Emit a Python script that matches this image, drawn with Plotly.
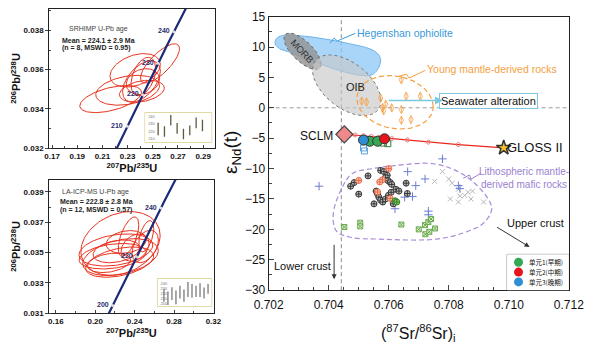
import numpy as np
import plotly.graph_objects as go

FONT = "Liberation Sans, Arial, sans-serif"
CJK = "Noto Sans CJK SC, Noto Sans, sans-serif"

# ---------------- concordia (decay constants) ----------------
LAMBDA_238 = 1.55125e-10
LAMBDA_235 = 9.8485e-10
concordia_ages = np.linspace(150, 300, 301)          # Ma
shrimp_age_marks = [210, 220, 230, 240]
laicp_age_marks = [200, 220, 240]

# ---------------- SHRIMP ellipses (top-left) ----------------
shrimp_x = [0.2165, 0.2300, 0.2557, 0.2360, 0.2410, 0.2425, 0.2413, 0.2421]
shrimp_y = [0.03450, 0.03495, 0.03632, 0.03597, 0.03540, 0.03565, 0.03490, 0.03539]
shrimp_sx = [0.0245, 0.0253, 0.0155, 0.0200, 0.0150, 0.0098, 0.0178, 0.0132]
shrimp_sy = [0.00069, 0.00076, 0.00100, 0.00085, 0.00105, 0.00098, 0.00056, 0.00066]
shrimp_rho = [0.5, 0.3, 0.75, 0.35, 0.5, 0.4, 0.3, 0.2]

# ---------------- LA-ICP-MS ellipses (bottom-left) ----------------
laicp_x = [0.2257, 0.2210, 0.2257, 0.2177, 0.2248, 0.2215, 0.2338, 0.2518, 0.2508, 0.2404, 0.2314, 0.2140]
laicp_y = [0.03560, 0.03517, 0.03470, 0.03476, 0.03437, 0.03508, 0.03605, 0.03608, 0.03540, 0.03533, 0.03570, 0.03432]
laicp_sx = [0.0402, 0.0374, 0.0383, 0.0340, 0.0345, 0.0237, 0.0104, 0.0076, 0.0133, 0.0142, 0.0203, 0.0218]
laicp_sy = [0.00210, 0.00106, 0.00122, 0.00084, 0.00100, 0.00075, 0.00130, 0.00103, 0.00107, 0.00090, 0.00075, 0.00064]
laicp_rho = [0.25, 0.3, 0.35, 0.3, 0.4, 0.3, 0.6, 0.5, 0.4, 0.3, 0.2, 0.3]

# ---------------- weighted-mean insets ----------------
shrimp_ages = [222.9, 219.6, 234.6, 223.9, 216.3, 221.1, 231.3, 227.6]
shrimp_err = [8.3, 7.2, 7.0, 7.2, 7.0, 6.5, 7.2, 7.8]
shrimp_mean = 224.1
laicp_ages = [217.2, 211.5, 220.3, 213.0, 223.5, 216.5, 228.8, 225.7, 225.0, 227.6, 221.8, 229.8]
laicp_err = [12.6, 13.3, 12.6, 13.6, 12.6, 12.0, 14.8, 13.6, 11.0, 13.6, 11.0, 9.5]
laicp_mean = 222.8

# ---------------- Sr-Nd diagram fields ----------------
hegenshan_x = [0.70225, 0.70246, 0.70315, 0.70389, 0.70473, 0.70537, 0.70563, 0.70573, 0.70563,
               0.70542, 0.70505, 0.70442, 0.70378, 0.70315, 0.70273, 0.70236, 0.70222, 0.70225]
hegenshan_y = [11.3, 11.9, 11.8, 11.3, 10.5, 9.7, 8.9, 7.9, 6.3, 5.4, 5.35, 6.05, 7.1, 8.25, 9.1, 9.75, 10.5, 11.3]
# ellipse fields: centre x, centre y, half-width x, half-height y, tilt
morb_field = (0.70313, 9.3, 0.00062, 3.0, -0.7)
oib_field = (0.70460, 3.7, 0.00114, 5.0, -0.5)
young_field = (0.70621, 0.9, 0.00127, 4.4, -0.15)
litho_x = [0.70479, 0.70442, 0.70415, 0.70426, 0.70473, 0.70568, 0.70758, 0.70853, 0.70916, 0.70943,
           0.70916, 0.70842, 0.70748, 0.70621, 0.70547, 0.70479]
litho_y = [-10.8, -13.4, -17.6, -20.3, -21.3, -21.6, -21.6, -20.5, -18.95, -16.6,
           -13.95, -10.8, -9.2, -9.5, -10.0, -10.8]

# leader lines
hegenshan_leader_x = [0.70405, 0.70418, 0.70429, 0.70489]
hegenshan_leader_y = [10.68, 11.47, 11.0, 12.26]
young_leader_x = [0.70634, 0.70659, 0.70668, 0.70722]
young_leader_y = [5.21, 5.53, 4.89, 6.16]
litho_leader_x = [0.70848, 0.70869, 0.70874, 0.70906]
litho_leader_y = [-11.58, -11.05, -11.74, -10.79]

# young mantle-derived rocks
young_x = [0.70510, 0.70526, 0.70573, 0.70579, 0.70583, 0.70590, 0.70610, 0.70642, 0.70642,
           0.70658, 0.70705, 0.70642, 0.70674]
young_y = [1.1, 0.95, 1.6, 0.0, -0.5, 0.6, 0.0, -0.3, 4.6, 1.9, 1.9, -2.05, -1.95]

# SCLM - GLOSS II mixing line
mix_x = [0.70452, 0.70488, 0.70516, 0.70542, 0.70567, 0.70610, 0.70662, 0.70732, 0.70832, 0.70983]
mix_y = [-4.37, -4.47, -4.60, -4.72, -4.85, -5.05, -5.28, -5.65, -6.05, -6.58]
sclm_x, sclm_y = [0.70452], [-4.37]
gloss_x, gloss_y = [0.70983], [-6.58]

# lithospheric mantle-derived mafic rocks
blk_x = [0.70473, 0.70485, 0.70500, 0.70531, 0.70573, 0.70584, 0.70595, 0.70589, 0.70598, 0.70605,
         0.70610, 0.70558, 0.70563, 0.70567, 0.70573, 0.70580, 0.70589, 0.70599, 0.70608, 0.70624,
         0.70634, 0.70658, 0.70662, 0.70615, 0.70551]
blk_y = [-12.9, -12.3, -14.2, -11.2, -10.3, -10.5, -11.1, -11.5, -12.0, -12.3,
         -12.6, -13.7, -14.2, -14.7, -15.2, -15.5, -15.0, -14.4, -13.9, -13.4,
         -13.7, -12.4, -14.1, -15.8, -15.8]
red_x = [0.70500, 0.70563, 0.70579, 0.70600, 0.70605, 0.70570]
red_y = [-11.95, -13.85, -11.85, -10.0, -14.9, -12.2]
grn_o_x = [0.70621, 0.70627]
grn_o_y = [-15.3, -15.5]
grn_x_x = [0.70452, 0.70505, 0.70505, 0.70642, 0.70700, 0.70721, 0.70732, 0.70741, 0.70754, 0.70722, 0.70735]
grn_x_y = [-19.6, -18.9, -19.5, -19.2, -20.0, -19.3, -18.8, -18.3, -19.85, -20.8, -20.4]
blu_p_x = [0.70779, 0.70368, 0.70663, 0.70690, 0.70721, 0.70653, 0.70679, 0.70621, 0.70732, 0.70732, 0.70837, 0.70832]
blu_p_y = [-8.4, -12.9, -10.5, -12.8, -11.7, -14.7, -14.6, -16.6, -17.0, -17.6, -13.3, -12.8]
gry_x_x = [0.70779, 0.70753, 0.70832, 0.70864, 0.70879, 0.70837, 0.70874, 0.70805, 0.70832, 0.70916,
           0.70800, 0.70811, 0.70853]
gry_x_y = [-10.5, -12.1, -13.4, -13.9, -13.7, -14.5, -15.0, -15.0, -15.5, -15.5, -11.7, -12.4, -14.4]

# this study (units)
unit_names = ["单元1(早期)", "单元2(中期)", "单元3(晚期)"]
unit_colors = ["#35a853", "#e8141c", "#2e8fd6"]
unit_x = [[0.70537, 0.70563], [0.70586], [0.70516]]
unit_y = [[-5.5, -5.5], [-5.1], [-5.3]]
sq_blue_x = [0.70516, 0.70519]
sq_blue_y = [-6.6, -7.1]
sq_green_x = [0.70582, 0.70597]
sq_green_y = [-5.8, -5.9]

seawater_x = [0.70595, 0.70780]
seawater_y = [1.2, 1.2]
upper_crust_x = [0.70956, 0.71069]
upper_crust_y = [-19.5, -22.9]
lower_crust_x = [0.70418, 0.70418]
lower_crust_y = [-22.3, -28.2]


def ellipse(cx, cy, sx, sy, rho, n=100):
    t = np.linspace(0, 2 * np.pi, n)
    x = cx + sx * np.cos(t)
    y = cy + sy * (rho * np.cos(t) + np.sqrt(1 - rho ** 2) * np.sin(t))
    return x, y


fig = go.Figure()

# ---------------- left panels: concordia + ellipses ----------------
conc_x = np.exp(LAMBDA_235 * concordia_ages * 1e6) - 1
conc_y = np.exp(LAMBDA_238 * concordia_ages * 1e6) - 1
for xa, ya, cx, cy, sx, sy, rr in [
    ("x", "y", shrimp_x, shrimp_y, shrimp_sx, shrimp_sy, shrimp_rho),
    ("x2", "y2", laicp_x, laicp_y, laicp_sx, laicp_sy, laicp_rho),
]:
    for i in range(len(cx)):
        ex, ey = ellipse(cx[i], cy[i], sx[i], sy[i], rr[i])
        fig.add_trace(go.Scatter(x=ex, y=ey, mode="lines", xaxis=xa, yaxis=ya,
                                 line=dict(color="#e8321e", width=1), showlegend=False,
                                 hoverinfo="skip"))
    fig.add_trace(go.Scatter(x=conc_x, y=conc_y, mode="lines", xaxis=xa, yaxis=ya,
                             line=dict(color="#1c2a78", width=2.2), showlegend=False,
                             hoverinfo="skip"))

annotations = []
for xr, yr, marks in [("x", "y", shrimp_age_marks), ("x2", "y2", laicp_age_marks)]:
    ages = np.array(marks, dtype=float)
    mx = np.exp(LAMBDA_235 * ages * 1e6) - 1
    my = np.exp(LAMBDA_238 * ages * 1e6) - 1
    fig.add_trace(go.Scatter(x=mx, y=my, mode="markers", xaxis=xr, yaxis=yr,
                             marker=dict(size=3, color="#dddddd", line=dict(width=0)),
                             showlegend=False, hoverinfo="skip"))
    for a, px_, py_ in zip(marks, mx, my):
        annotations.append(dict(x=px_, y=py_, xref=xr, yref=yr, text=f"<b>{a}</b>",
                                showarrow=False, xshift=-10, yshift=1, xanchor="center",
                                yanchor="middle",
                                font=dict(size=7, color="#2a2f6e", family=FONT)))

# insets
for xa, ya, ages, errs, bar_col in [
    ("x4", "y4", shrimp_ages, shrimp_err, "#5b5a3a"),
    ("x5", "y5", laicp_ages, laicp_err, "#7a7a7a"),
]:
    n = len(ages)
    fig.add_trace(go.Scatter(x=list(range(1, n + 1)), y=ages, mode="markers", xaxis=xa, yaxis=ya,
                             marker=dict(size=1, opacity=0),
                             error_y=dict(type="data", array=errs, width=0, thickness=1.3,
                                          color=bar_col),
                             showlegend=False, hoverinfo="skip"))

# ---------------- right panel ----------------
X3 = dict(xaxis="x3", yaxis="y3", showlegend=False, hoverinfo="skip")

fig.add_trace(go.Scatter(x=hegenshan_x, y=hegenshan_y, mode="lines", fill="toself",
                         fillcolor="rgba(140,200,245,0.75)", line=dict(color="#6cb3ea", width=1,
                                                                      shape="spline", smoothing=1),
                         **X3))
mx_, my_ = ellipse(*morb_field)
fig.add_trace(go.Scatter(x=mx_, y=my_, mode="lines", fill="toself", fillcolor="rgba(150,150,150,0.85)",
                         line=dict(color="#666666", width=1, dash="dot"), **X3))
ox_, oy_ = ellipse(*oib_field)
fig.add_trace(go.Scatter(x=ox_, y=oy_, mode="lines", fill="toself", fillcolor="rgba(200,200,200,0.65)",
                         line=dict(color="#777777", width=1, dash="dot"), **X3))
yx_, yy_ = ellipse(*young_field)
fig.add_trace(go.Scatter(x=yx_, y=yy_, mode="lines",
                         line=dict(color="#f5a040", width=1.2, dash="5px,3px"), **X3))
fig.add_trace(go.Scatter(x=litho_x, y=litho_y, mode="lines",
                         line=dict(color="#a88ad8", width=1.2, dash="5px,3px", shape="spline",
                                   smoothing=1), **X3))
for lx, ly, col in [(hegenshan_leader_x, hegenshan_leader_y, "#3a9ad9"),
                    (young_leader_x, young_leader_y, "#f5a040"),
                    (litho_leader_x, litho_leader_y, "#9b7fd0")]:
    fig.add_trace(go.Scatter(x=lx, y=ly, mode="lines", line=dict(color=col, width=1), **X3))

# young mantle-derived rocks
fig.add_trace(go.Scatter(x=young_x, y=young_y, mode="markers",
                         marker=dict(symbol="diamond-tall-open", size=6, color="#f5a14a",
                                     line=dict(width=0.8)), **X3))
fig.add_trace(go.Scatter(x=young_x, y=young_y, mode="markers",
                         marker=dict(symbol="line-ns-open", size=5, color="#f5a14a",
                                     line=dict(width=0.8, color="#f5a14a")), **X3))

# lithospheric samples
fig.add_trace(go.Scatter(x=gry_x_x, y=gry_x_y, mode="markers",
                         marker=dict(symbol="x-thin-open", size=5, color="#b8b8b8",
                                     line=dict(width=1, color="#b8b8b8")), **X3))
fig.add_trace(go.Scatter(x=blu_p_x, y=blu_p_y, mode="markers",
                         marker=dict(symbol="cross-thin-open", size=6, color="#6b7fd0",
                                     line=dict(width=1, color="#6b7fd0")), **X3))
fig.add_trace(go.Scatter(x=grn_x_x, y=grn_x_y, mode="markers",
                         marker=dict(symbol="square-x", size=5, color="#dff0d0",
                                     line=dict(width=1, color="#6aa84f")), **X3))
fig.add_trace(go.Scatter(x=blk_x, y=blk_y, mode="markers",
                         marker=dict(symbol="circle-cross", size=6, color="#bdbdbd",
                                     line=dict(width=0.9, color="#2a2a2a")), **X3))
fig.add_trace(go.Scatter(x=red_x, y=red_y, mode="markers",
                         marker=dict(symbol="circle-cross", size=6, color="#fbc6b4",
                                     line=dict(width=0.9, color="#e8603a")), **X3))
fig.add_trace(go.Scatter(x=grn_o_x, y=grn_o_y, mode="markers",
                         marker=dict(symbol="circle-cross", size=6, color="#8bc34a",
                                     line=dict(width=0.9, color="#2e7d32")), **X3))

# mixing line
fig.add_trace(go.Scatter(x=mix_x, y=mix_y, mode="lines+markers",
                         line=dict(color="#e8291c", width=1.2),
                         marker=dict(symbol="circle-open", size=4, color="#f08080"), **X3))
fig.add_trace(go.Scatter(x=sclm_x, y=sclm_y, mode="markers",
                         marker=dict(symbol="diamond", size=13, color="#f08a8a",
                                     line=dict(width=1.2, color="#444444")), **X3))
fig.add_trace(go.Scatter(x=gloss_x, y=gloss_y, mode="markers",
                         marker=dict(symbol="star", size=11, color="#f2c230",
                                     line=dict(width=1.5, color="#333333")), **X3))
fig.add_trace(go.Scatter(x=sq_blue_x, y=sq_blue_y, mode="markers",
                         marker=dict(symbol="square-open", size=6, color="#5aa0e0",
                                     line=dict(width=1)), **X3))
fig.add_trace(go.Scatter(x=sq_green_x, y=sq_green_y, mode="markers",
                         marker=dict(symbol="square-open", size=6, color="#2e7d32",
                                     line=dict(width=1)), **X3))
for name, col, ux, uy in zip(unit_names, unit_colors, unit_x, unit_y):
    fig.add_trace(go.Scatter(x=ux, y=uy, mode="markers", name=name, xaxis="x3", yaxis="y3",
                             marker=dict(symbol="circle", size=10, color=col,
                                         line=dict(width=1, color="#333333")),
                             showlegend=False, hoverinfo="skip"))

# ---------------- manual legend (own small axis) ----------------
legend_rows = [0.78 - 0.275 * i for i in range(len(unit_names))]
for name, col, ly in zip(unit_names, unit_colors, legend_rows):
    fig.add_trace(go.Scatter(x=[0.185], y=[ly], mode="markers", xaxis="x6", yaxis="y6",
                             marker=dict(symbol="circle", size=9, color=col, line=dict(width=0)),
                             showlegend=False, hoverinfo="skip"))

# ---------------- shapes ----------------
shapes = [
    dict(type="rect", xref="x4 domain", yref="y4 domain", x0=0, x1=1, y0=0, y1=1,
         fillcolor="#fdf5ab", line=dict(color="#c9b95a", width=1), layer="below"),
    dict(type="rect", xref="x5 domain", yref="y5 domain", x0=0, x1=1, y0=0, y1=1,
         fillcolor="#fdf5ab", line=dict(color="#c9b95a", width=1), layer="below"),
    dict(type="line", xref="x4 domain", yref="y4", x0=0, x1=1, y0=shrimp_mean, y1=shrimp_mean,
         line=dict(color="#f5b36a", width=1.5), layer="below"),
    dict(type="line", xref="x5 domain", yref="y5", x0=0, x1=1, y0=laicp_mean, y1=laicp_mean,
         line=dict(color="#ee6a2a", width=1), layer="below"),
    dict(type="line", xref="x3 domain", yref="y3", x0=0, x1=1, y0=0, y1=0,
         line=dict(color="#9a9a9a", width=1, dash="4px,3px"), layer="below"),
    dict(type="line", xref="x3", yref="y3 domain", x0=0.70442, x1=0.70442, y0=0, y1=1,
         line=dict(color="#8a8a8a", width=1, dash="4px,3px"), layer="below"),
    dict(type="rect", xref="x6 domain", yref="y6 domain", x0=0, x1=1, y0=0, y1=1,
         fillcolor="white", line=dict(color="#8a8a8a", width=1), layer="below"),
]

# ---------------- annotations ----------------
def txt(x, y, t, size, color="#111111", xref="x3", yref="y3", **kw):
    d = dict(x=x, y=y, xref=xref, yref=yref, text=t, showarrow=False, xanchor="center",
             yanchor="middle", font=dict(size=size, color=color, family=FONT))
    d.update(kw)
    return d

annotations += [
    txt(0.1821, 0.03805, "SRHIMP U-Pb age", 7, "#444444", "x", "y", xanchor="left"),
    txt(0.1760, 0.03751, "<b>Mean = 224.1 ± 2.9 Ma</b>", 7, "#222222", "x", "y", xanchor="left"),
    txt(0.1760, 0.03712, "<b>(n = 8, MSWD = 0.95)</b>", 7, "#222222", "x", "y", xanchor="left"),
    txt(0.1647, 0.03900, "LA-ICP-MS U-Pb age", 7, "#444444", "x2", "y2", xanchor="left"),
    txt(0.1619, 0.03835, "<b>Mean = 222.8 ± 2.8 Ma</b>", 7, "#222222", "x2", "y2", xanchor="left"),
    txt(0.1619, 0.03781, "<b>(n = 12, MSWD = 0.57)</b>", 7, "#222222", "x2", "y2", xanchor="left"),
    # right panel titles
    txt(0.708, 1 - 340 / 349, "(<sup>87</sup>Sr/<sup>86</sup>Sr)<sub>i</sub>", 16, "#111111", "paper", "paper"),
    txt(0.381, 1 - 152 / 349, "ε<sub>Nd</sub>(t)", 19, "#111111", "paper", "paper", textangle=-90),
    # right panel labels
    txt(0.70489, 12.26, "Hegenshan ophiolite", 10.5, "#3a9ad9", xanchor="left"),
    txt(0.70722, 6.4, "Young mantle-derived rocks", 10.5, "#f5a040", xanchor="left"),
    txt(0.70313, 9.3, "MORB", 9.5, "#333333", textangle=47),
    txt(0.70488, 3.5, "OIB", 11, "#222222"),
    txt(0.70361, -4.7, "SCLM", 12, "#111111"),
    txt(0.71086, -6.5, "GLOSS II", 13, "#111111"),
    txt(0.70931, 1.15, "Seawater alteration", 11, "#111111", bordercolor="#7cc8e0",
        borderwidth=1, borderpad=1, bgcolor="white"),
    txt(0.71051, -11.5, "Lithospheric mantle-<br>derived mafic rocks", 10, "#9b7fd0"),
    txt(0.71089, -18.9, "Upper crust", 11, "#111111"),
    txt(0.70312, -25.95, "Lower crust", 11, "#111111"),
    dict(x=seawater_x[1], y=seawater_y[1], ax=seawater_x[0], ay=seawater_y[0], xref="x3", yref="y3",
         axref="x3", ayref="y3", text="", showarrow=True, arrowhead=2, arrowsize=1.2,
         arrowwidth=1.3, arrowcolor="#7cc8e0"),
    dict(x=upper_crust_x[1], y=upper_crust_y[1], ax=upper_crust_x[0], ay=upper_crust_y[0],
         xref="x3", yref="y3", axref="x3", ayref="y3", text="", showarrow=True, arrowhead=2,
         arrowsize=1, arrowwidth=1, arrowcolor="#333333"),
    dict(x=lower_crust_x[1], y=lower_crust_y[1], ax=lower_crust_x[0], ay=lower_crust_y[0],
         xref="x3", yref="y3", axref="x3", ayref="y3", text="", showarrow=True, arrowhead=2,
         arrowsize=1, arrowwidth=1, arrowcolor="#333333"),
]
for name, ly in zip(unit_names, legend_rows):
    annotations.append(dict(x=0.33, y=ly, xref="x6", yref="y6", text=name, showarrow=False,
                            xanchor="left", yanchor="middle",
                            font=dict(size=6.5, family=CJK, color="#111111")))

# ---------------- axes ----------------
left_tick = dict(size=8, family=FONT, color="#111111", weight="bold")
title_font = dict(size=11, family=FONT, color="#111111", weight="bold")
pb206 = "<sup>206</sup>Pb/<sup>238</sup>U"
pb207 = "<sup>207</sup>Pb/<sup>235</sup>U"
common = dict(showline=True, mirror=True, linecolor="#222222", linewidth=1, showgrid=False,
              zeroline=False)
hidden = dict(visible=False, showgrid=False, zeroline=False, fixedrange=True)
fig.update_layout(
    width=600, height=349, margin=dict(l=0, r=0, t=0, b=0),
    paper_bgcolor="white", plot_bgcolor="white",
    font=dict(family=FONT),
    showlegend=False,
    xaxis=dict(domain=[0.06, 0.35], anchor="y", range=[0.1677, 0.299], tick0=0.17, dtick=0.02,
               tickformat=".2f", ticks="inside", ticklen=3, tickfont=left_tick,
               minor=dict(dtick=0.01, ticks="inside", ticklen=2),
               title=dict(text=pb207, font=title_font, standoff=1), **common),
    yaxis=dict(domain=[0.5788, 0.9943], anchor="x", range=[0.032, 0.0391], tick0=0.032,
               dtick=0.002, tickformat=".3f", ticks="outside", ticklen=3, tickfont=left_tick,
               minor=dict(dtick=0.001, ticks="inside", ticklen=2),
               title=dict(text=pb206, font=title_font, standoff=0), **common),
    xaxis2=dict(domain=[0.06, 0.3483], anchor="y2", range=[0.1533, 0.3201], tick0=0.16, dtick=0.04,
                tickformat=".2f", ticks="inside", ticklen=3, tickfont=left_tick,
                minor=dict(dtick=0.02, ticks="inside", ticklen=2),
                title=dict(text=pb207, font=title_font, standoff=1), **common),
    yaxis2=dict(domain=[0.086, 0.4842], anchor="x2", range=[0.031, 0.0398], tick0=0.031,
                dtick=0.002, tickformat=".3f", ticks="outside", ticklen=3, tickfont=left_tick,
                minor=dict(dtick=0.001, ticks="inside", ticklen=2),
                title=dict(text=pb206, font=title_font, standoff=0), **common),
    xaxis3=dict(domain=[0.445, 0.9717], anchor="y3", range=[0.702, 0.712], tick0=0.702,
                dtick=0.002, tickformat=".3f", ticks="inside", ticklen=5, ticklabelstandoff=3,
                tickfont=dict(size=12, color="#111111"),
                minor=dict(dtick=0.0005, ticks="inside", ticklen=3), **common),
    yaxis3=dict(domain=[0.1547, 0.9713], anchor="x3", range=[-30, 15], dtick=5, ticks="inside",
                ticklen=5, tickfont=dict(size=12, color="#111111"),
                minor=dict(dtick=2.5, ticks="inside", ticklen=3), **common),
    xaxis4=dict(domain=[0.2283, 0.345], anchor="y4", range=[-1.05, 9.45], showticklabels=False,
                ticks="", showgrid=False, zeroline=False),
    yaxis4=dict(domain=[0.596, 0.6848], anchor="x4", range=[205, 245], dtick=10,
                ticklabelposition="inside", ticks="", tickfont=dict(size=4, color="#777777"),
                showgrid=False, zeroline=False),
    xaxis5=dict(domain=[0.25, 0.345], anchor="y5", range=[-0.6, 12.9], showticklabels=False,
                ticks="", showgrid=False, zeroline=False),
    yaxis5=dict(domain=[0.106, 0.189], anchor="x5", range=[195, 250], dtick=10,
                ticklabelposition="inside", ticks="", tickfont=dict(size=4, color="#777777"),
                showgrid=False, zeroline=False),
    xaxis6=dict(domain=[0.8633, 0.9717], anchor="y6", range=[0, 1], **hidden),
    yaxis6=dict(domain=[0.1547, 0.2616], anchor="x6", range=[0, 1], **hidden),
    shapes=shapes,
    annotations=annotations,
)

fig.write_html("out.html")
